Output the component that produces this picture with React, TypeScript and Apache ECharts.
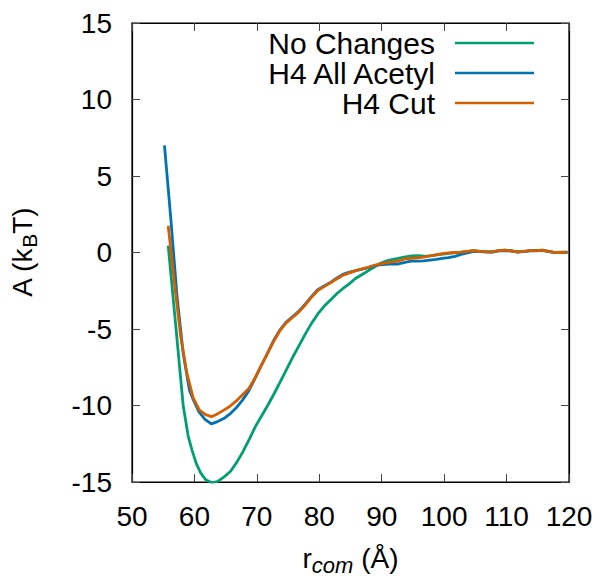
import React, { useEffect, useRef } from "react";
import * as echarts from "echarts";

const seriesNames = ["No Changes", "H4 All Acetyl", "H4 Cut"];
const seriesColors = ["#009e73", "#0072b2", "#d55e00"];

const xTicks = [50, 60, 70, 80, 90, 100, 110, 120];
const yTicks = [-15, -10, -5, 0, 5, 10, 15];

const noChangesX = [55.8, 56.6, 57.4, 58.2, 59.0, 59.6, 60.3, 61.0, 61.8, 62.8, 63.8, 64.8, 65.8, 66.8, 67.8, 68.8, 69.8, 70.8, 71.8, 72.8, 73.8, 74.8, 75.8, 76.8, 77.8, 78.8, 79.8, 80.8, 81.8, 82.8, 83.8, 84.8, 85.8, 86.8, 87.8, 88.8, 89.8, 90.8, 91.8, 92.8, 93.8, 94.8, 95.8, 96.8, 97.8, 98.8, 99.8, 100.8, 101.8, 102.8, 103.8, 104.8, 105.8, 106.8, 107.8, 108.8, 109.8, 110.8, 111.8, 112.8, 113.8, 114.8, 115.8, 116.8, 117.8, 118.8, 119.8];
const noChangesY = [0.45, -3.0, -6.5, -10.0, -12.0, -12.9, -13.8, -14.4, -14.85, -15.05, -14.95, -14.65, -14.3, -13.7, -13.0, -12.2, -11.35, -10.65, -9.95, -9.2, -8.4, -7.6, -6.8, -6.05, -5.3, -4.6, -4.0, -3.5, -3.1, -2.7, -2.35, -2.05, -1.7, -1.45, -1.2, -0.95, -0.7, -0.55, -0.45, -0.36, -0.28, -0.22, -0.2, -0.24, -0.22, -0.15, -0.1, -0.05, 0.0, 0.02, 0.08, 0.12, 0.08, 0.05, 0.04, 0.12, 0.15, 0.1, 0.04, 0.08, 0.12, 0.12, 0.15, 0.08, 0.0, 0.0, 0.02];

const acetylX = [55.2, 56.2, 57.2, 58.2, 59.2, 59.8, 60.7, 61.7, 62.7, 63.7, 64.7, 65.7, 66.7, 67.7, 68.7, 69.7, 70.7, 71.7, 72.7, 73.7, 74.7, 75.7, 76.7, 77.7, 78.7, 79.7, 80.7, 81.7, 82.7, 83.7, 84.7, 85.7, 86.7, 87.7, 88.7, 89.7, 90.7, 91.7, 92.7, 93.7, 94.7, 95.7, 96.7, 97.7, 98.7, 99.7, 100.7, 101.7, 102.7, 103.7, 104.7, 105.7, 106.7, 107.7, 108.7, 109.7, 110.7, 111.7, 112.7, 113.7, 114.7, 115.7, 116.7, 117.7, 118.7, 119.7];
const acetylY = [7.0, 2.3, -2.8, -6.6, -9.0, -9.6, -10.4, -10.9, -11.2, -11.05, -10.85, -10.55, -10.15, -9.65, -9.05, -8.25, -7.4, -6.6, -5.75, -5.05, -4.55, -4.2, -3.85, -3.4, -2.9, -2.45, -2.2, -1.98, -1.7, -1.45, -1.3, -1.2, -1.1, -1.0, -0.88, -0.8, -0.78, -0.75, -0.75, -0.65, -0.57, -0.57, -0.55, -0.5, -0.45, -0.38, -0.33, -0.25, -0.12, -0.02, 0.08, 0.06, 0.04, 0.02, 0.1, 0.12, 0.1, 0.02, 0.06, 0.1, 0.1, 0.14, 0.06, 0.0, 0.02, 0.0];

const cutX = [55.8, 56.8, 57.8, 58.8, 59.8, 60.8, 61.8, 62.7, 63.7, 64.7, 65.7, 66.7, 67.7, 68.7, 69.7, 70.7, 71.7, 72.7, 73.7, 74.7, 75.7, 76.7, 77.7, 78.7, 79.7, 80.7, 81.7, 82.7, 83.7, 84.7, 85.7, 86.7, 87.7, 88.7, 89.7, 90.7, 91.7, 92.7, 93.7, 94.7, 95.7, 96.7, 97.7, 98.7, 99.7, 100.7, 101.7, 102.7, 103.7, 104.7, 105.7, 106.7, 107.7, 108.7, 109.7, 110.7, 111.7, 112.7, 113.7, 114.7, 115.7, 116.7, 117.7, 118.7, 119.7];
const cutY = [1.75, -2.0, -5.5, -7.9, -9.5, -10.3, -10.6, -10.73, -10.55, -10.3, -10.05, -9.7, -9.3, -8.9, -8.2, -7.4, -6.6, -5.8, -5.1, -4.6, -4.25, -3.9, -3.45, -2.95, -2.5, -2.25, -2.0, -1.75, -1.5, -1.35, -1.2, -1.08, -0.98, -0.85, -0.75, -0.68, -0.62, -0.55, -0.42, -0.38, -0.35, -0.3, -0.22, -0.15, -0.08, -0.03, 0.0, 0.02, 0.08, 0.12, 0.08, 0.05, 0.04, 0.12, 0.15, 0.1, 0.04, 0.08, 0.12, 0.12, 0.15, 0.08, 0.0, 0.0, 0.02];

const FONT = "'Liberation Sans', Arial, Helvetica, sans-serif";

function pairs(xs: number[], ys: number[]) {
  return xs.map((x, i) => [x, ys[i]]);
}

export default function App() {
  const ref = useRef<HTMLDivElement>(null);
  useEffect(() => {
    if (!ref.current) return;
    const chart = echarts.init(ref.current, null, { renderer: "svg" });
    const tickStyle = { show: true, inside: true, length: 8, lineStyle: { color: "#444", width: 1 } };
    const axisLineStyle = { show: true, onZero: false, lineStyle: { color: "#000", width: 1.2 } };
    const allData = [pairs(noChangesX, noChangesY), pairs(acetylX, acetylY), pairs(cutX, cutY)];
    chart.setOption({
      animation: false,
      backgroundColor: "#fff",
      textStyle: { fontFamily: FONT },
      grid: { left: 132, right: 33, top: 23, bottom: 94.5, show: true, borderColor: "#000", borderWidth: 1.2 },
      legend: {
        orient: "vertical",
        right: 63,
        top: 23,
        align: "right",
        itemWidth: 79,
        itemHeight: 14,
        itemGap: 0,
        icon: "path://M0,6 L79,6 L79,8.6 L0,8.6 Z",
        data: seriesNames.map((n, i) => ({ name: n, itemStyle: { color: seriesColors[i] } })),
        textStyle: { fontSize: 30, color: "#000", fontFamily: FONT, lineHeight: 30, padding: [0, 15, 0, 0] },
      },
      xAxis: [
        {
          type: "value",
          min: 50,
          max: 120,
          interval: 10,
          position: "bottom",
          axisLine: axisLineStyle,
          axisTick: tickStyle,
          splitLine: { show: false },
          axisLabel: { fontSize: 28, color: "#000", margin: 20, fontFamily: FONT, showMaxLabel: true, showMinLabel: true },
          name: "r{sub|com} (Å)",
          nameLocation: "middle",
          nameGap: 58,
          nameTextStyle: {
            fontSize: 28,
            color: "#000",
            fontFamily: FONT,
            rich: {
              sub: { fontSize: 22, fontStyle: "italic", fontFamily: FONT, color: "#000", padding: [14, 0, 0, 0] },
            },
          },
        },
        {
          type: "value",
          min: 50,
          max: 120,
          interval: 10,
          position: "top",
          axisLine: axisLineStyle,
          axisTick: tickStyle,
          axisLabel: { show: false },
          splitLine: { show: false },
        },
      ],
      yAxis: [
        {
          type: "value",
          min: -15,
          max: 15,
          interval: 5,
          position: "left",
          axisLine: axisLineStyle,
          axisTick: tickStyle,
          splitLine: { show: false },
          axisLabel: { fontSize: 28, color: "#000", margin: 20, fontFamily: FONT },
          name: "A (k{sub|B}T)",
          nameLocation: "middle",
          nameGap: 92,
          nameRotate: 90,
          nameTextStyle: {
            fontSize: 28,
            color: "#000",
            fontFamily: FONT,
            rich: {
              sub: { fontSize: 21, fontFamily: FONT, color: "#000", padding: [14, 0, 0, 0] },
            },
          },
        },
        {
          type: "value",
          min: -15,
          max: 15,
          interval: 5,
          position: "right",
          axisLine: axisLineStyle,
          axisTick: tickStyle,
          axisLabel: { show: false },
          splitLine: { show: false },
        },
      ],
      series: seriesNames.map((name, i) => ({
        name,
        type: "line",
        data: allData[i],
        showSymbol: false,
        symbol: "none",
        smooth: false,
        color: seriesColors[i],
        lineStyle: { color: seriesColors[i], width: 2.8 },
        z: 10 + i,
      })),
    });
    return () => chart.dispose();
  }, []);
  return <div ref={ref} style={{ position: "fixed", left: 0, top: 0, width: 602, height: 581, background: "#fff" }} />;
}
